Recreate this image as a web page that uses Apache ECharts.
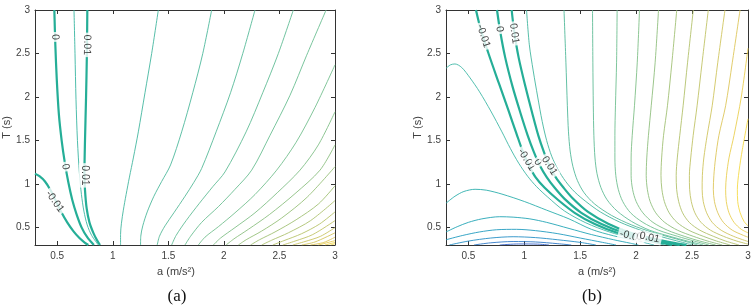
<!DOCTYPE html>
<html>
<head>
<meta charset="utf-8">
<script src="https://cdn.jsdelivr.net/npm/echarts@6/dist/echarts.min.js"></script>
<style>
  html, body { margin: 0; padding: 0; background: #fff; }
  #chart { width: 754px; height: 306px; }
</style>
</head>
<body>
<div id="chart"></div>
<script>
  // axis ticks (both panels)
  const aTicks = [0.5, 1, 1.5, 2, 2.5, 3];
  const tTicks = [0.5, 1, 1.5, 2, 2.5, 3];

  // ---- panel (a): contour lines as [a, T] points ----
  const negA = [[0.3,1.12],[0.34,1.09],[0.39,1.03],[0.44,0.93],[0.49,0.8],[0.54,0.67],[0.59,0.56],[0.645,0.46],[0.7,0.38],[0.75,0.325],[0.78,0.3]];
  const zeroA = [[0.474,3],[0.483,2.6],[0.496,2.2],[0.515,1.8],[0.54,1.5],[0.568,1.25],[0.6,1.02],[0.635,0.82],[0.675,0.65],[0.72,0.5],[0.77,0.39],[0.83,0.3]];
  const posA = [[0.771,3],[0.767,2.5],[0.759,1.97],[0.75,1.5],[0.745,1.12],[0.75,0.93],[0.765,0.72],[0.79,0.56],[0.825,0.44],[0.86,0.35],[0.885,0.3]];
  const thinA = [
    [[0.651,3],[0.66,2.5],[0.669,1.97],[0.682,1.5],[0.7,1.12],[0.718,0.88],[0.74,0.69],[0.77,0.53],[0.81,0.41],[0.87,0.3]],
    [[1.07,0.3],[1.07,0.42],[1.078,0.55],[1.095,0.7],[1.12,0.88],[1.15,1.08],[1.185,1.3],[1.23,1.6],[1.29,2.05],[1.35,2.5],[1.41,3]],
    [[1.25,0.3],[1.252,0.4],[1.27,0.52],[1.31,0.68],[1.37,0.86],[1.44,1.03],[1.52,1.22],[1.62,1.6],[1.72,2.05],[1.81,2.5],[1.89,3]],
    [[1.4,0.3],[1.42,0.4],[1.47,0.52],[1.55,0.67],[1.65,0.86],[1.73,1.02],[1.8,1.18],[1.93,1.6],[2.06,2.05],[2.17,2.5],[2.28,3]],
    [[1.53,0.3],[1.57,0.41],[1.66,0.58],[1.78,0.78],[1.9,0.97],[2.01,1.14],[2.2,1.6],[2.35,2.05],[2.49,2.5],[2.625,3]],
    [[1.65,0.3],[1.7,0.4],[1.8,0.56],[1.95,0.74],[2.1,0.94],[2.25,1.16],[2.415,1.56],[2.595,2.02],[2.745,2.48],[2.92,3]],
    [[1.77,0.3],[1.83,0.39],[1.95,0.51],[2.1,0.67],[2.28,0.88],[2.475,1.16],[2.65,1.48],[2.82,1.88],[3,2.37]],
    [[1.905,0.3],[1.97,0.38],[2.1,0.5],[2.28,0.67],[2.48,0.9],[2.685,1.16],[2.85,1.45],[3,1.83]],
    [[2.02,0.3],[2.09,0.37],[2.22,0.48],[2.41,0.65],[2.64,0.89],[2.865,1.16],[3,1.45]],
    [[2.13,0.3],[2.2,0.36],[2.34,0.46],[2.52,0.61],[2.75,0.85],[3,1.2]],
    [[2.24,0.3],[2.32,0.36],[2.46,0.45],[2.65,0.59],[2.85,0.77],[3,0.98]],
    [[2.34,0.3],[2.43,0.355],[2.58,0.44],[2.78,0.58],[3,0.81]],
    [[2.44,0.3],[2.54,0.35],[2.7,0.43],[2.86,0.54],[3,0.68]],
    [[2.53,0.3],[2.64,0.345],[2.8,0.42],[3,0.58]],
    [[2.62,0.3],[2.73,0.34],[2.87,0.4],[3,0.5]],
    [[2.7,0.3],[2.82,0.335],[3,0.44]],
    [[2.78,0.3],[2.9,0.33],[3,0.39]],
    [[2.85,0.3],[3,0.35]],
    [[2.91,0.3],[3,0.33]],
    [[2.96,0.3],[3,0.315]],
  ];
  const labelsA = [['0', 0.483, 2.69], ['0.01', 0.768, 2.6], ['0', 0.575, 1.2], ['0.01', 0.745, 1.1], ['-0.01', 0.478, 0.8]];

  // ---- panel (b) ----
  const negB = [[0.568,3],[0.61,2.78],[0.68,2.5],[0.775,2.15],[0.86,1.84],[0.93,1.58],[0.985,1.38],[1.04,1.22],[1.1,1.08],[1.18,0.96],[1.3,0.82],[1.45,0.67],[1.63,0.54],[1.83,0.44],[2.03,0.375],[2.22,0.325],[2.32,0.3]];
  const zeroB = [[0.756,3],[0.785,2.75],[0.83,2.45],[0.895,2.12],[0.965,1.82],[1.03,1.56],[1.085,1.37],[1.14,1.21],[1.2,1.08],[1.27,0.96],[1.36,0.83],[1.51,0.67],[1.69,0.54],[1.89,0.44],[2.09,0.375],[2.28,0.325],[2.39,0.3]];
  const posB = [[0.887,3],[0.91,2.75],[0.95,2.45],[1.01,2.12],[1.07,1.82],[1.125,1.56],[1.175,1.37],[1.225,1.21],[1.28,1.08],[1.35,0.96],[1.43,0.84],[1.57,0.68],[1.75,0.545],[1.95,0.44],[2.15,0.375],[2.34,0.325],[2.45,0.3]];
  // humps below the band, lowest level first
  const lowB = [
    [[0.78,0.3],[0.95,0.312],[1.12,0.31],[1.22,0.3]],
    [[0.55,0.3],[0.7,0.325],[0.9,0.34],[1.1,0.335],[1.3,0.315],[1.42,0.3]],
    [[0.33,0.3],[0.5,0.345],[0.7,0.38],[0.9,0.395],[1.1,0.385],[1.3,0.36],[1.5,0.33],[1.64,0.3]],
    [[0.3,0.36],[0.45,0.41],[0.6,0.45],[0.75,0.475],[0.93,0.48],[1.1,0.465],[1.3,0.43],[1.5,0.38],[1.7,0.33],[1.82,0.3]],
    [[0.3,0.45],[0.4,0.51],[0.5,0.56],[0.62,0.6],[0.78,0.625],[0.9,0.62],[1.05,0.6],[1.2,0.56],[1.4,0.49],[1.6,0.42],[1.8,0.36],[1.95,0.32],[2.02,0.3]],
    [[0.3,0.78],[0.38,0.86],[0.46,0.915],[0.56,0.94],[0.66,0.93],[0.8,0.885],[1.0,0.8],[1.2,0.7],[1.4,0.6],[1.6,0.48],[1.8,0.405],[2.0,0.35],[2.1,0.32],[2.16,0.3]],
    [[0.3,2.33],[0.34,2.37],[0.38,2.38],[0.44,2.34],[0.515,2.22],[0.6,2.06],[0.7,1.84],[0.8,1.6],[0.875,1.41],[0.95,1.24],[1.03,1.09],[1.11,0.97],[1.21,0.85],[1.36,0.69],[1.55,0.555],[1.76,0.45],[1.96,0.38],[2.15,0.33],[2.25,0.3]],
  ];
  // lines above the band, left to right
  const highB = [
    [[1.02,3],[1.045,2.6],[1.08,2.3],[1.12,2.0],[1.16,1.72],[1.2,1.5],[1.245,1.32],[1.3,1.17],[1.37,1.03],[1.45,0.91],[1.55,0.8],[1.68,0.68],[1.85,0.565],[2.04,0.47],[2.24,0.39],[2.4,0.335],[2.5,0.3]],
    [[1.355,3],[1.372,2.4],[1.385,1.9],[1.395,1.6],[1.41,1.38],[1.435,1.2],[1.475,1.04],[1.535,0.9],[1.63,0.77],[1.78,0.64],[1.96,0.53],[2.15,0.445],[2.33,0.38],[2.47,0.33],[2.55,0.3]],
    [[1.61,3],[1.613,2.4],[1.617,1.9],[1.622,1.56],[1.632,1.3],[1.65,1.12],[1.685,0.96],[1.74,0.82],[1.83,0.69],[1.96,0.57],[2.12,0.47],[2.3,0.4],[2.46,0.345],[2.6,0.3]],
    [[1.83,3],[1.825,2.4],[1.815,1.9],[1.81,1.56],[1.81,1.3],[1.818,1.1],[1.84,0.94],[1.88,0.8],[1.95,0.67],[2.06,0.56],[2.2,0.47],[2.37,0.4],[2.52,0.345],[2.65,0.3]],
    [[2.03,3],[2.01,2.4],[1.985,1.9],[1.965,1.56],[1.955,1.3],[1.955,1.1],[1.968,0.94],[2.0,0.8],[2.06,0.67],[2.15,0.56],[2.28,0.47],[2.43,0.4],[2.57,0.345],[2.71,0.3]],
    [[2.2,3],[2.17,2.4],[2.135,1.9],[2.11,1.56],[2.095,1.3],[2.09,1.1],[2.1,0.94],[2.125,0.8],[2.175,0.67],[2.255,0.56],[2.37,0.47],[2.51,0.4],[2.64,0.345],[2.77,0.3]],
    [[2.363,3],[2.32,2.4],[2.28,1.9],[2.245,1.56],[2.228,1.3],[2.222,1.1],[2.23,0.94],[2.252,0.8],[2.295,0.67],[2.365,0.56],[2.47,0.47],[2.6,0.4],[2.72,0.345],[2.84,0.3]],
    [[2.511,3],[2.46,2.4],[2.42,1.9],[2.39,1.56],[2.368,1.3],[2.358,1.1],[2.362,0.94],[2.38,0.8],[2.415,0.67],[2.475,0.56],[2.57,0.47],[2.69,0.4],[2.8,0.345],[2.92,0.3]],
    [[2.645,3],[2.59,2.4],[2.545,1.9],[2.51,1.56],[2.488,1.3],[2.476,1.1],[2.478,0.94],[2.493,0.8],[2.525,0.67],[2.58,0.56],[2.665,0.47],[2.78,0.4],[2.9,0.345],[3,0.31]],
    [[2.794,3],[2.73,2.4],[2.68,1.9],[2.635,1.56],[2.605,1.3],[2.592,1.1],[2.59,0.94],[2.6,0.8],[2.63,0.67],[2.68,0.56],[2.76,0.47],[2.87,0.4],[3,0.34]],
    [[2.929,3],[2.86,2.4],[2.8,1.9],[2.74,1.56],[2.71,1.3],[2.695,1.1],[2.69,0.94],[2.7,0.8],[2.73,0.67],[2.78,0.56],[2.86,0.47],[2.96,0.41],[3,0.39]],
    [[3,2.56],[2.94,2.0],[2.875,1.56],[2.83,1.3],[2.808,1.1],[2.8,0.94],[2.806,0.8],[2.83,0.67],[2.875,0.56],[2.94,0.48],[3,0.44]],
    [[3,1.75],[2.95,1.4],[2.92,1.15],[2.905,0.94],[2.908,0.8],[2.93,0.67],[2.965,0.57],[3,0.52]],
  ];
  const labelsB = [
    ['-0.01', 0.635, 2.7], ['0', 0.78, 2.78], ['0.01', 0.91, 2.73],
    ['-0.01', 1.02, 1.28], ['0', 1.12, 1.25], ['0.01', 1.225, 1.21],
    ['-0.01', 1.96, 0.4], ['0', 2.03, 0.394], ['0.01', 2.12, 0.385],
  ];

  // label angles (style)
  const rotA = [-88, -91, -78, -90, -54];
  const rotB = [-72, -80, -82, -58, -58, -58, -14, -12, -12];

  const thickColor = '#25ae97';
  const font = 'Liberation Sans, Arial, sans-serif';

  function hex(c) {
    return [1, 3, 5].map((i) => parseInt(c.slice(i, i + 2), 16));
  }
  function ramp(stops, t) {
    for (let i = 1; i < stops.length; i++) {
      if (t <= stops[i][0]) {
        const [t0, c0] = stops[i - 1];
        const [t1, c1] = stops[i];
        const f = (t - t0) / (t1 - t0);
        const a = hex(c0), b = hex(c1);
        return 'rgb(' + a.map((v, k) => Math.round(v + (b[k] - v) * f)).join(',') + ')';
      }
    }
    return stops[stops.length - 1][1];
  }
  const warm = [[0, '#3ab5a2'], [0.3, '#72bf90'], [0.6, '#b2c26c'], [0.85, '#e0c65a'], [1, '#f5da48']];
  const cool = [[0, '#3a64c8'], [0.4, '#2296c6'], [0.75, '#22aab0'], [1, '#3fb8a6']];

  function curve(data, gi, color, width, z) {
    return {
      type: 'line',
      xAxisIndex: gi * 2,
      yAxisIndex: gi * 2,
      data: data,
      showSymbol: false,
      symbol: 'none',
      smooth: 0.3,
      silent: true,
      z: z,
      lineStyle: { color: color, width: width },
    };
  }

  function labelSeries(list, rots, gi) {
    return {
      type: 'scatter',
      xAxisIndex: gi * 2,
      yAxisIndex: gi * 2,
      symbolSize: 1,
      itemStyle: { color: 'rgba(0,0,0,0)' },
      silent: true,
      z: 10,
      data: list.map((l, i) => ({
        name: l[0],
        value: [l[1], l[2]],
        label: { rotate: rots[i] },
      })),
      label: {
        show: true,
        position: 'inside',
        formatter: '{b}',
        color: '#111',
        fontSize: 10.5,
        fontFamily: font,
        backgroundColor: '#fff',
        padding: [0, 2],
      },
    };
  }

  function xAxes(gi) {
    const base = {
      type: 'value',
      gridIndex: gi,
      min: 0.3,
      max: 3,
      splitLine: { show: false },
      axisLine: { show: true, lineStyle: { color: '#333', width: 1 } },
      axisTick: { show: true, inside: true, length: 4, customValues: aTicks, lineStyle: { color: '#333' } },
    };
    return [
      Object.assign({}, base, {
        position: 'bottom',
        axisLabel: { customValues: aTicks, color: '#404040', fontSize: 10, fontFamily: font, margin: 6 },
        name: 'a (m/s²)',
        nameLocation: 'middle',
        nameGap: 21,
        nameTextStyle: { color: '#404040', fontSize: 11, fontFamily: font, padding: gi === 0 ? [0, 18, 0, 0] : 0 },
      }),
      Object.assign({}, base, { position: 'top', axisLabel: { show: false } }),
    ];
  }

  function yAxes(gi) {
    const base = {
      type: 'value',
      gridIndex: gi,
      min: 0.3,
      max: 3,
      splitLine: { show: false },
      axisLine: { show: true, lineStyle: { color: '#333', width: 1 } },
      axisTick: { show: true, inside: true, length: 4, customValues: tTicks, lineStyle: { color: '#333' } },
    };
    return [
      Object.assign({}, base, {
        position: 'left',
        axisLabel: { customValues: tTicks, color: '#404040', fontSize: 10, fontFamily: font, margin: 5 },
        name: 'T (s)',
        nameLocation: 'middle',
        nameGap: gi === 0 ? 19 : 18,
        nameRotate: 90,
        nameTextStyle: { color: '#404040', fontSize: 11, fontFamily: font },
      }),
      Object.assign({}, base, { position: 'right', axisLabel: { show: false } }),
    ];
  }

  const series = [];
  thinA.forEach((c, i) => series.push(curve(c, 0, ramp(warm, i / (thinA.length - 1)), 0.9, 2)));
  [negA, zeroA, posA].forEach((c) => series.push(curve(c, 0, thickColor, 2.2, 3)));
  series.push(labelSeries(labelsA, rotA, 0));

  lowB.forEach((c, i) => series.push(curve(c, 1, ramp(cool, i / (lowB.length - 1)), 0.9, 2)));
  highB.forEach((c, i) => series.push(curve(c, 1, ramp(warm, 0.05 + 0.95 * i / (highB.length - 1)), 0.9, 2)));
  [negB, zeroB, posB].forEach((c) => series.push(curve(c, 1, thickColor, 2.2, 3)));
  series.push(labelSeries(labelsB, rotB, 1));

  const myChart = echarts.init(document.getElementById('chart'), null, { renderer: 'canvas' });
  const options = {
    animation: false,
    backgroundColor: '#fff',
    grid: [
      { left: 35, top: 10, width: 300, height: 235, containLabel: false },
      { left: 446, top: 10, width: 302, height: 235, containLabel: false },
    ],
    xAxis: xAxes(0).concat(xAxes(1)),
    yAxis: yAxes(0).concat(yAxes(1)),
    graphic: [
      { type: 'text', x: 177, y: 297, style: { text: '(a)', fill: '#111', font: '17px "Liberation Serif", "DejaVu Serif", serif', textAlign: 'center', textVerticalAlign: 'middle' } },
      { type: 'text', x: 592, y: 297, style: { text: '(b)', fill: '#111', font: '17px "Liberation Serif", "DejaVu Serif", serif', textAlign: 'center', textVerticalAlign: 'middle' } },
    ],
    series: series,
  };
  myChart.setOption(options);
</script>
</body>
</html>
